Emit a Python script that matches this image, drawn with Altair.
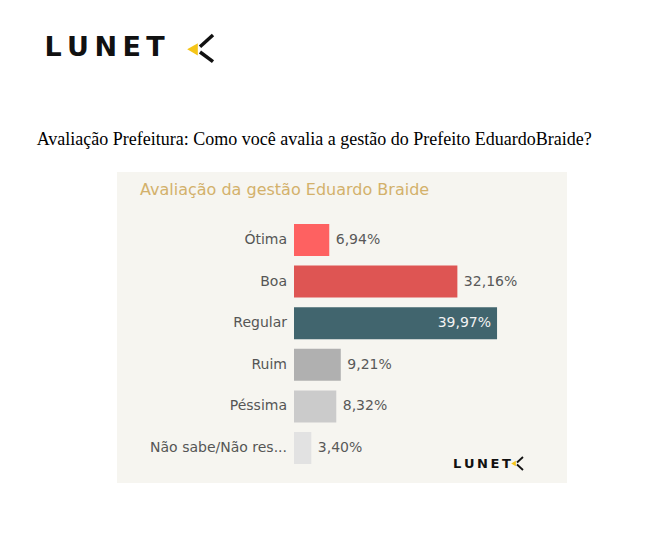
import altair as alt
import pandas as pd

categories = ["Ótima", "Boa", "Regular", "Ruim", "Péssima", "Não sabe/Não respondeu"]
display_labels = ["Ótima", "Boa", "Regular", "Ruim", "Péssima", "Não sabe/Não res..."]
values = [6.94, 32.16, 39.97, 9.21, 8.32, 3.40]
bar_colors = ["#fe6161", "#de5553", "#41656e", "#b0b0b0", "#cbcbcb", "#e2e2e2"]

page_title = "Avaliação Prefeitura: Como você avalia a gestão do Prefeito EduardoBraide?"
panel_title = "Avaliação da gestão Eduardo Braide"
logo_text = "L\u2009U\u2009N\u2009E\u2009T"

df = pd.DataFrame({
    "cat": categories,
    "label": display_labels,
    "value": values,
    "txt": [f"{v:.2f}".replace(".", ",") + "%" for v in values],
})
one = pd.DataFrame({"a": [0]})

FONT = "DejaVu Sans"

xs = alt.Scale(domain=[0, 50], range=[286, 540])
ys = alt.Scale(domain=categories, range=[211.2, 460.8], paddingInner=0.23, paddingOuter=0.115)
X = alt.X("value:Q", scale=xs, axis=None)
Y = alt.Y("cat:N", scale=ys, sort=categories, axis=None)

panel = alt.Chart(one).mark_rect(color="#f6f5f0").encode(
    x=alt.value(109), x2=alt.value(559), y=alt.value(164), y2=alt.value(475)
)

bars = alt.Chart(df).mark_bar().encode(
    x=X, y=Y,
    color=alt.Color("cat:N", scale=alt.Scale(domain=categories, range=bar_colors), legend=None),
)

cat_labels = alt.Chart(df).mark_text(
    align="right", baseline="middle", fontSize=14, color="#555555", font=FONT
).encode(y=Y, x=alt.value(279), text="label:N")

val_out = alt.Chart(df).transform_filter(alt.datum.cat != "Regular").mark_text(
    align="left", baseline="middle", dx=6.5, fontSize=14, color="#595959", font=FONT
).encode(x=X, y=Y, text="txt:N")

val_in = alt.Chart(df).transform_filter(alt.datum.cat == "Regular").mark_text(
    align="right", baseline="middle", dx=-6, fontSize=14, color="#f2f2f2", font=FONT
).encode(x=X, y=Y, text="txt:N")

ptitle = alt.Chart(one).mark_text(
    align="left", baseline="alphabetic", fontSize=16, color="#d3b16b", font=FONT
).encode(x=alt.value(132), y=alt.value(187), text=alt.value(panel_title))

header = alt.Chart(one).mark_text(
    align="left", baseline="alphabetic", fontSize=18, color="#000000", font="Liberation Serif"
).encode(x=alt.value(28.7), y=alt.value(136.7), text=alt.value(page_title))

# big logo
logo_big = alt.Chart(one).mark_text(
    align="left", baseline="alphabetic", fontSize=27, fontWeight="bold", color="#111111", font=FONT
).encode(x=alt.value(36.5), y=alt.value(48), text=alt.value(logo_text))

def chevron(xr, yt, xl, ym1, ym2, yb, w):
    up = alt.Chart(one).mark_rule(color="#111111", strokeWidth=w).encode(
        x=alt.value(xr), y=alt.value(yt), x2=alt.value(xl), y2=alt.value(ym1))
    lo = alt.Chart(one).mark_rule(color="#111111", strokeWidth=w).encode(
        x=alt.value(xl), y=alt.value(ym2), x2=alt.value(xr), y2=alt.value(yb))
    return up + lo

chev_big = chevron(205, 27, 192, 38.7, 44, 53.7, 3.5)
tri_big = alt.Chart(one).mark_point(shape="triangle-left", filled=True, color="#f5c518", size=150, opacity=1).encode(
    x=alt.value(184.5), y=alt.value(41.3))

logo_small = alt.Chart(one).mark_text(
    align="left", baseline="alphabetic", fontSize=13, fontWeight="bold", color="#111111", font=FONT
).encode(x=alt.value(445), y=alt.value(460), text=alt.value(logo_text))
chev_small = chevron(515, 449, 509, 454.5, 456.5, 462, 1.8)
tri_small = alt.Chart(one).mark_point(shape="triangle-left", filled=True, color="#f5c518", size=28, opacity=1).encode(
    x=alt.value(505.5), y=alt.value(455.5))

chart = alt.layer(
    panel, bars, cat_labels, val_out, val_in, ptitle, header,
    logo_big, chev_big, tri_big, logo_small, chev_small, tri_small
).properties(
    width=630, height=525, autosize=alt.AutoSizeParams(type="none"), padding=0, background="white"
).configure_view(stroke=None)

chart.save("out.html", embed_options={"renderer": "svg", "actions": False})
